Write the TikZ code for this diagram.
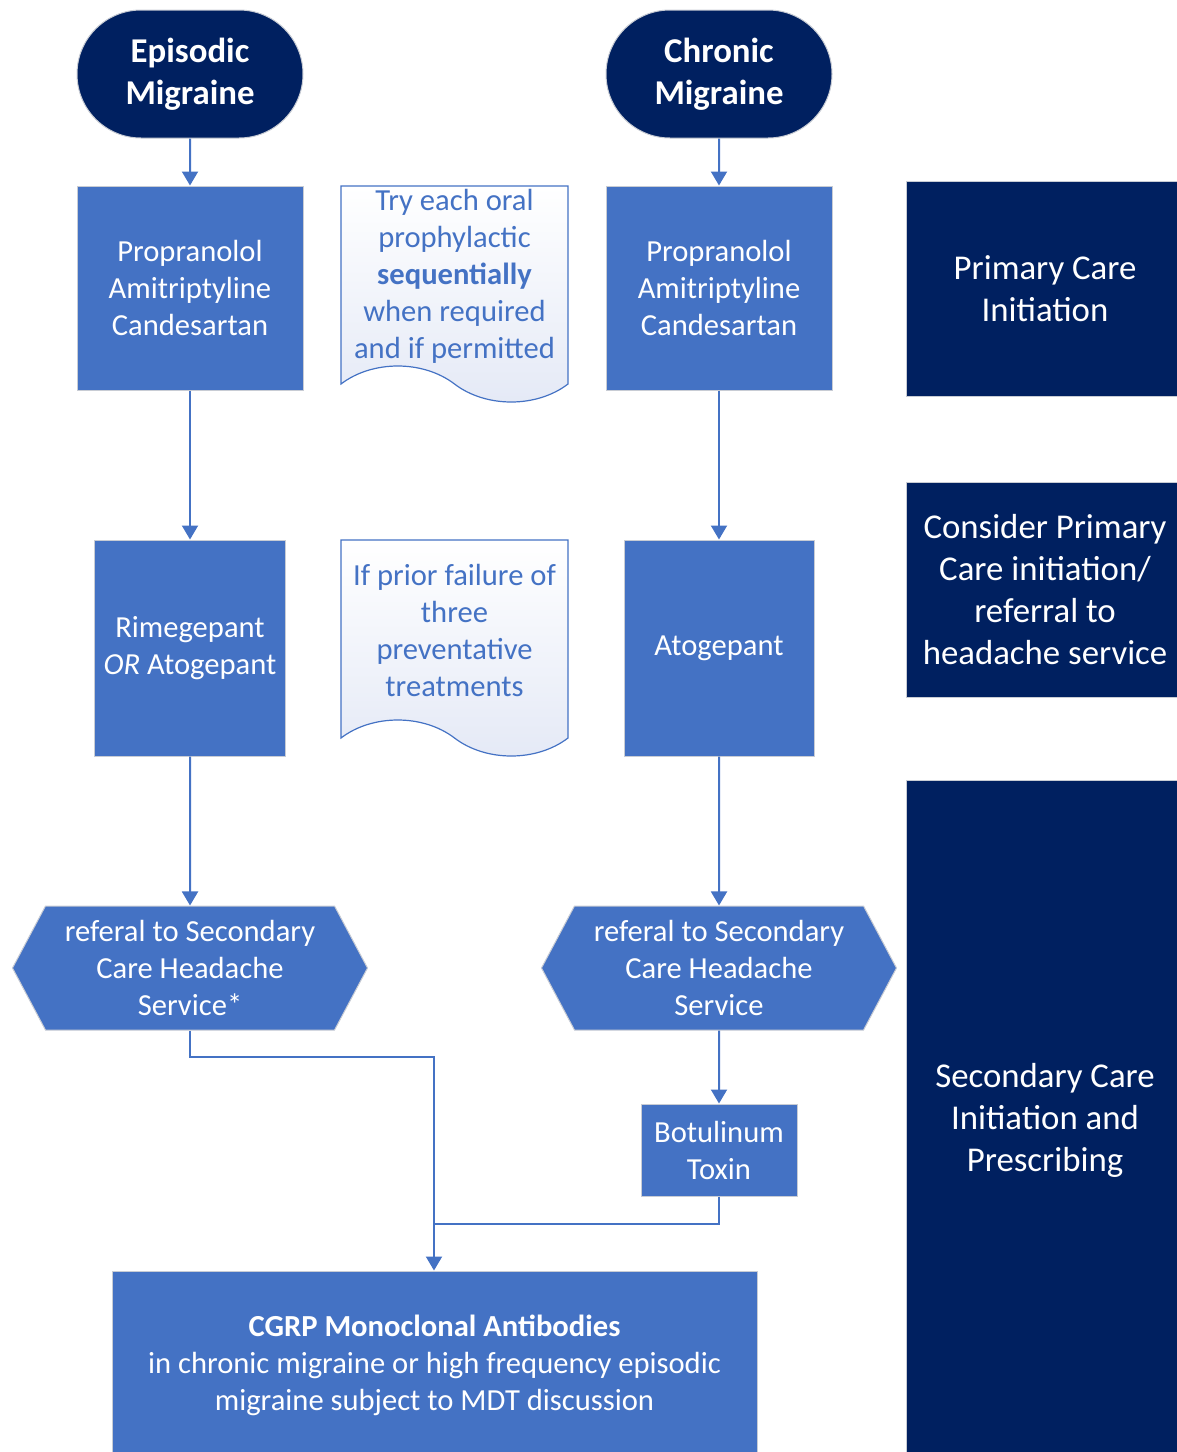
\documentclass[tikz,border=0pt]{standalone}
\usepackage{fontspec}
\setmainfont{Carlito}
\usepackage{tikz}
\usetikzlibrary{arrows.meta,positioning,shapes.misc,shapes.symbols}
\definecolor{boxblue}{HTML}{4472C4}
\definecolor{navy}{HTML}{002060}
\definecolor{docfill}{HTML}{E4E9F6}
\definecolor{rim}{HTML}{C8CCD4}
\newcommand{\boxfont}{\fontsize{15.3}{18.5}\selectfont}
\newcommand{\bigfont}{\fontsize{17.4}{21}\selectfont}

\begin{document}
\begin{tikzpicture}[x=0.5pt, y=-0.5pt,
  every node/.style={align=center, inner sep=0pt},
  startbox/.style={rounded rectangle, fill=navy, draw=rim, line width=0.5pt, text=white, font=\bigfont\bfseries, minimum width=113pt, minimum height=64pt},
  drugbox/.style={rectangle, fill=boxblue, draw=rim, line width=0.5pt, text=white, font=\boxfont},
  hexbox/.style={signal, signal to=west and east, signal pointer angle=124, fill=boxblue, draw=rim, line width=0.5pt, text=white, font=\boxfont, minimum width=177.5pt, minimum height=62pt},
  docbox/.style={tape, tape bend top=none, tape bend bottom=out and in, tape bend height=18pt, draw=boxblue, line width=0.6pt, top color=white, bottom color=docfill, text=boxblue, font=\boxfont, minimum width=113.5pt, minimum height=108pt},
  stagebox/.style={rectangle, fill=navy, draw=rim, line width=0.5pt, text=white, font=\bigfont, minimum width=139pt},
  arr/.style={-{Triangle[width=8pt,length=7pt]}, boxblue, line width=1pt},
  link/.style={boxblue, line width=1pt}]
  \useasboundingbox (0,0) rectangle (1177,1452);
  % start terminals
  \node[startbox] (ep) at (190,74) {Episodic\\Migraine};
  \node[startbox] (ch) at (719,74) {Chronic\\Migraine};
  % oral prophylactics
  \node[drugbox, minimum width=113pt, minimum height=102pt] (lp) at (190,288) {Propranolol\\Amitriptyline\\Candesartan};
  \node[drugbox, minimum width=113pt, minimum height=102pt] (rp) at (719,288) {Propranolol\\Amitriptyline\\Candesartan};
  % gepants
  \node[drugbox, minimum width=95.5pt, minimum height=108pt] (lg) at (190,648) {Rimegepant\\\textit{OR} Atogepant};
  \node[drugbox, minimum width=95pt, minimum height=108pt] (rg) at (719,648) {Atogepant};
  % notes
  \node[docbox] (n1) at (454.5,276) {Try each oral\\prophylactic\\\textbf{sequentially}\\when required\\and if permitted};
  \node[docbox] (n2) at (454.5,630) {If prior failure of\\three\\preventative\\treatments};
  % referrals
  \node[hexbox] (lr) at (190,968) {referal to Secondary\\Care Headache\\Service*};
  \node[hexbox] (rr) at (719,968) {referal to Secondary\\Care Headache\\Service};
  \node[drugbox, minimum width=78pt, minimum height=46pt] (bt) at (719,1150) {Botulinum\\Toxin};
  \node[drugbox, minimum width=322.5pt, minimum height=94pt] (mab) at (434.5,1365) {\textbf{CGRP Monoclonal Antibodies}\\in chronic migraine or high frequency episodic\\migraine subject to MDT discussion};
  % stages
  \node[stagebox, minimum height=107.5pt] (s1) at (1045,288.5) {Primary Care\\Initiation};
  \node[stagebox, minimum height=107.5pt] (s2) at (1045,589.5) {Consider Primary\\Care initiation/\\referral to\\headache service};
  \node[stagebox, minimum height=340pt] (s3) at (1045,1120) {Secondary Care\\Initiation and\\Prescribing};
  % arrows
  \draw[arr] (ep) -- (lp);
  \draw[arr] (ch) -- (rp);
  \draw[arr] (lp) -- (lg);
  \draw[arr] (rp) -- (rg);
  \draw[arr] (lg) -- (lr);
  \draw[arr] (rg) -- (rr);
  \draw[arr] (rr) -- (bt);
  \coordinate (jl) at (434,1057);
  \coordinate (jr) at (434,1224);
  \draw[arr] (lr.south) |- (jl) -- (jl |- mab.north);
  \draw[link] (bt.south) |- (jr);
\end{tikzpicture}
\end{document}
